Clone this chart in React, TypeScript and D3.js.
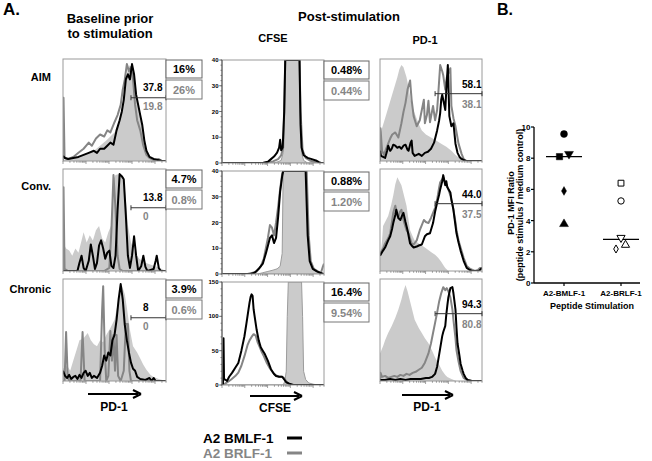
import React from 'react';
import * as d3 from 'd3';

type Pt = [number, number];

// ---------------- Panel A data ----------------
const rowLabels = ['AIM', 'Conv.', 'Chronic'];
const baselineBMLFPct = ['16%', '4.7%', '3.9%'];
const baselineBRLFPct = ['26%', '0.8%', '0.6%'];
const cfseBMLFPct = ['0.48%', '0.88%', '16.4%'];
const cfseBRLFPct = ['0.44%', '1.20%', '9.54%'];
const baselineGateBMLF = ['37.8', '13.8', '8'];
const baselineGateBRLF = ['19.8', '0', '0'];
const postGateBMLF = ['58.1', '44.0', '94.3'];
const postGateBRLF = ['38.1', '37.5', '80.8'];
const cfseMax = [40, 40, 150];
const cfseTicks = [[0, 10, 20, 30, 40], [0, 10, 20, 30, 40], [0, 50, 100, 150]];
const cfseMinorStep = [2, 2, 10];

// histograms: [percent along x-axis, height (% of mode or CFSE count)]
const baseAimFill: Pt[] = [[0,1],[10,3],[20,6],[30,10],[36,15],[42,20],[50,28],[55,40],[59,60],[62,85],[64,94],[67,90],[70,75],[74,50],[78,25],[81,8],[85,2],[92,0],[100,0]];
const baseAimBRLF: Pt[] = [[0,0],[0.5,62],[1.5,3],[5,2],[10,4],[15,8],[20,12],[25,18],[28,15],[32,22],[36,26],[40,24],[43,30],[46,28],[50,38],[53,45],[56,55],[58,70],[60,80],[62,95],[64,88],[66,92],[68,80],[70,55],[72,40],[75,30],[78,15],[81,6],[84,3],[88,1],[93,2],[96,0],[100,0]];
const baseAimBMLF: Pt[] = [[0,5],[2,3],[5,2],[10,3],[15,4],[20,6],[25,8],[30,10],[33,8],[36,12],[40,12],[43,15],[46,18],[49,16],[52,30],[55,40],[57,48],[59,60],[61,80],[63,85],[65,80],[67,95],[69,85],[71,65],[73,55],[75,45],[77,35],[79,20],[81,10],[84,4],[88,2],[92,1],[96,0],[100,0]];

const baseConvFill: Pt[] = [[0,28],[3,22],[6,20],[9,15],[12,22],[15,18],[18,30],[20,38],[23,28],[26,35],[29,30],[32,40],[35,44],[38,32],[41,28],[44,38],[47,45],[49,90],[51,94],[55,95],[59,92],[61,70],[63,45],[66,28],[70,18],[74,12],[80,8],[86,6],[92,4],[96,2],[100,0]];
const baseConvBRLF: Pt[] = [[0,0],[0.5,82],[1.5,2],[5,0],[40,0],[45,3],[47,40],[49,94],[51,60],[53,15],[55,2],[58,0],[100,0]];
const baseConvBMLF: Pt[] = [[0,0],[14,0],[16,8],[18,15],[20,3],[22,0],[25,10],[27,26],[29,15],[31,2],[33,8],[35,25],[37,30],[39,22],[41,12],[43,18],[45,20],[47,5],[49,3],[51,15],[53,60],[55,95],[57,93],[59,90],[61,55],[63,15],[65,3],[67,15],[69,34],[71,15],[73,0],[76,5],[78,15],[80,4],[82,0],[88,2],[90,10],[91,15],[93,3],[95,0],[100,0]];

const baseChronFill: Pt[] = [[0,12],[4,15],[7,10],[10,20],[13,30],[16,40],[20,42],[24,47],[27,40],[30,36],[33,34],[36,40],[39,38],[42,45],[46,52],[50,60],[53,75],[55,88],[57,94],[60,85],[62,72],[65,50],[68,34],[72,28],[75,22],[78,16],[81,11],[85,6],[88,4],[93,2],[100,0]];
const baseChronBRLF: Pt[] = [[0,0],[1.5,0],[3,48],[4.5,5],[6,0],[17,0],[19,48],[21,0],[36,0],[38,70],[39,93],[40.5,30],[42,0],[44,5],[46,49],[47.5,20],[49,45],[50.5,10],[52,45],[53.5,5],[56,0],[59,10],[61,56],[63,56],[64.5,10],[66,0],[100,0]];
const baseChronBMLF: Pt[] = [[0,10],[2,5],[4,3],[6,6],[8,2],[10,4],[12,5],[14,2],[16,6],[18,3],[20,8],[22,10],[24,5],[26,8],[28,3],[30,5],[33,3],[36,8],[38,15],[40,25],[42,20],[44,28],[46,25],[48,40],[50,45],[52,60],[54,80],[56,95],[58,80],[60,55],[62,40],[64,28],[66,18],[68,12],[70,10],[72,4],[75,2],[80,1],[84,3],[86,0],[88,3],[90,0],[100,0]];

const cfseAimFill: Pt[] = [[0,0],[50,0],[55,0.5],[58,1],[60,4],[61,20],[62,40],[76,40],[77,20],[78,4],[80,1],[84,0],[100,0]];
const cfseAimBRLF: Pt[] = [[0,0],[40,0],[45,0.3],[50,0.6],[55,1.5],[58,3],[60,6],[61,20],[62,40],[76,40],[77,20],[79,5],[82,2],[86,1],[90,0.5],[95,0],[100,0]];
const cfseAimBMLF: Pt[] = [[0,0],[40,0],[45,0.5],[48,1.5],[51,2.5],[54,4],[56,6],[57,9],[58,5],[59.5,6],[61,20],[62,40],[76,40],[77,15],[78,6],[80,3],[84,2],[88,1.5],[92,1],[95,0.3],[97,0],[100,0]];

const cfseConvFill: Pt[] = [[0,0],[35,0],[40,0.5],[45,1],[50,1.5],[54,2],[57,3],[59,8],[60,40],[83,40],[84,20],[86,6],[88,3],[92,1.5],[96,0.5],[100,0]];
const cfseConvBRLF: Pt[] = [[0,0],[25,0],[30,0.5],[34,1],[38,3],[41,6],[43,10],[45,14],[47,19],[49,18],[51,15],[53,20],[55,26],[57,33],[59,39],[60,40],[83,40],[85,15],[87,5],[90,2],[94,1],[97,0.5],[99,3],[100,4]];
const cfseConvBMLF: Pt[] = [[0,0],[28,0],[32,0.5],[36,2],[40,4],[43,8],[45,11],[47,14],[49,15],[51,12],[53,14],[55,22],[57,32],[59,38],[60,40],[82,40],[84,15],[86,5],[89,2],[93,1],[96,0.5],[100,0]];

const cfseChronFill: Pt[] = [[0,0],[60,0],[61.5,5],[63,20],[64,100],[65,150],[78,150],[79,100],[80,20],[82,8],[85,3],[90,1],[95,0],[100,0]];
const cfseChronBRLF: Pt[] = [[0,0],[3,2],[6,5],[9,8],[13,13],[16,18],[19,28],[22,42],[25,58],[27,65],[29,70],[31,74],[33,72],[35,62],[37,55],[39,48],[41,42],[44,32],[47,24],[50,18],[53,14],[56,12],[59,12],[61,10],[63,5],[65,2],[68,0],[100,0]];
const cfseChronBMLF: Pt[] = [[0,0],[1,2],[1.5,68],[2,8],[3,8],[5,6],[7,12],[10,18],[13,25],[16,32],[19,50],[22,71],[24,90],[26,110],[27,120],[28,128],[29,132],[30,130],[31,110],[32,100],[34,80],[36,65],[38,55],[40,50],[42,45],[45,35],[48,23],[51,16],[53,13],[56,12],[59,12],[61,8],[63,4],[66,2],[70,0],[100,0]];

const postAimFill: Pt[] = [[0,25],[2,32],[5,42],[8,52],[11,62],[14,72],[17,82],[19,90],[21,94],[23,92],[26,82],[28,72],[30,60],[32,52],[35,44],[38,36],[41,30],[45,26],[50,23],[55,20],[60,17],[65,14],[70,10],[74,6],[78,3],[83,1],[88,0],[100,0]];
const postAimBRLF: Pt[] = [[0,0],[0.5,32],[2,10],[4,6],[6,12],[8,17],[10,22],[12,26],[15,28],[18,23],[21,37],[23,48],[25,57],[27,70],[29.5,79],[31,60],[33,44],[36,34],[39,40],[41,50],[43,60],[44,37],[46,45],[47.5,59],[49,38],[52,54],[54,40],[56,50],[57,64],[59,94],[61,88],[62,84],[64,70],[65.5,82],[67,86],[69,91],[70,54],[72,42],[74,34],[77,17],[80,7],[82,2],[85,0],[100,0]];
const postAimBMLF: Pt[] = [[0,10],[1,5],[3,4],[5,3],[7,10],[8,15],[10,10],[11.5,12],[13,16],[15,15],[17,13],[19,14],[21,12],[23,15],[25,16],[27,11],[28,10],[30,18],[31,20],[32,8],[34,5],[36,6],[38,7],[41,5],[44,8],[47,9],[50,12],[53,18],[56,30],[58,40],[59,47],[60,60],[61,65],[62,60],[63,55],[64,50],[65,70],[66.5,94],[67.5,60],[68,44],[70,34],[72,37],[74,17],[76,8],[78,4],[80,2],[84,0],[100,0]];

const postConvFill: Pt[] = [[0,12],[2,30],[3,44],[6,50],[8,54],[11,65],[13,74],[15,85],[17,92],[19,88],[21,84],[24,72],[26,64],[28,50],[29.5,40],[32,34],[34,30],[38,27],[44,23],[48,20],[51,18],[54,16],[57,13],[60,9],[62,6],[64,3],[67,0],[100,0]];
const postConvBRLF: Pt[] = [[0,17],[3,22],[5,27],[8,32],[10,37],[12,50],[13,57],[15,64],[16.5,55],[18,52],[19.5,58],[21,60],[23,50],[24.5,45],[26,40],[28,37],[31,27],[33,26],[36,30],[39,40],[41,45],[43,50],[45,48],[47.5,47],[50,52],[52,57],[54,62],[56,70],[58,82],[59,87],[61,90],[62,92],[64,86],[65.5,84],[67,80],[69,74],[71,66],[72,60],[74,48],[75,40],[77,30],[79,23],[82,13],[85,5],[88.5,2],[93,0],[96,1],[98,3],[100,3]];
const postConvBMLF: Pt[] = [[0,15],[3,20],[5,23],[8,30],[10,34],[12,42],[13,47],[15,55],[16,60],[18,52],[20,50],[21.5,54],[23,57],[25,48],[27,40],[29.5,27],[31,25],[33,23],[36,24],[38,25],[41,26],[44,34],[46,36],[49,37],[52,47],[54,58],[56,67],[58,75],[59,80],[61,88],[62,94],[64,84],[65,88],[66,82],[69,77],[70,70],[72,60],[73,52],[75,37],[77,28],[79,20],[82,10],[85,3],[88,1],[90,0],[97,0],[100,3]];

const postChronFill: Pt[] = [[0,27],[3,34],[5,40],[8,47],[11.5,54],[15,62],[18,70],[21,80],[23,88],[25,94],[27,88],[28,84],[31,72],[34,60],[38,52],[41,47],[44,42],[47.5,37],[51,30],[54,23],[58,16],[61,10],[64,6],[66,4],[70,2],[75,0],[100,0]];
const postChronBRLF: Pt[] = [[0,0],[0.5,8],[2,4],[5,5],[8,3],[11,4],[14,5],[17,4],[20,6],[23,5],[26,7],[29,6],[32,8],[35,9],[38,11],[41,13],[44,18],[47.5,27],[50,37],[52,47],[54,57],[56,67],[58,78],[60,86],[62,92],[64,89],[65.5,91],[67,88],[69,82],[71,70],[72,60],[74,42],[75,30],[77,19],[79,10],[82,3],[85,1],[90,0],[100,0]];
const postChronBMLF: Pt[] = [[0,1],[5,1],[10,2],[15,1],[20,2],[25,1],[30,2],[35,2],[40,2],[45,3],[48,3],[51,4],[54,7],[56,14],[57,20],[59,32],[61,44],[62,48],[64,54],[65,65],[66,74],[67,82],[69,91],[71,92],[72,86],[73,78],[74,70],[75,52],[76,37],[78,24],[79,17],[81,10],[82,7],[84,3],[86,1],[90,0],[100,0]];

const baselineFill = [baseAimFill, baseConvFill, baseChronFill];
const baselineBRLF = [baseAimBRLF, baseConvBRLF, baseChronBRLF];
const baselineBMLF = [baseAimBMLF, baseConvBMLF, baseChronBMLF];
const cfseFill = [cfseAimFill, cfseConvFill, cfseChronFill];
const cfseBRLF = [cfseAimBRLF, cfseConvBRLF, cfseChronBRLF];
const cfseBMLF = [cfseAimBMLF, cfseConvBMLF, cfseChronBMLF];
const postFill = [postAimFill, postConvFill, postChronFill];
const postBRLF = [postAimBRLF, postConvBRLF, postChronBRLF];
const postBMLF = [postAimBMLF, postConvBMLF, postChronBMLF];

// ---------------- Panel B data ----------------
const peptideCategories = ['A2-BMLF-1', 'A2-BRLF-1'];
const bmlfRatios = [9.55, 8.1, 8.27, 5.9, 3.78];
const brlfRatios = [6.4, 5.26, 2.9, 2.18, 2.44];
const bmlfSymbols = ['circle', 'square', 'triangleDown', 'diamond', 'triangle'];
const brlfSymbols = ['square', 'circle', 'triangleDown', 'diamond', 'triangle'];
const medianRatios = [8.1, 2.8];
const ratioTicks = [0, 2, 4, 6, 8, 10];

// ---------------- styling ----------------
const FONT = "'Liberation Sans', Arial, Helvetica, sans-serif";
const BLACK = '#000';
const GRAY = '#858585';
const FILLC = '#cbcbcb';
const BORDER = '#9a9a9a';

const colX = [63, 222, 380];
const colW = [103, 102, 102];
const colTops = [[59, 169, 279], [60, 171, 282], [59, 169, 279]];
const panelH = 102;

function LogTicks({ x0, w, y }: { x0: number; w: number; y: number }) {
  const s = d3.scaleLog().domain([1, 30000]).range([x0, x0 + w]);
  const t = s.ticks();
  return (
    <g stroke="#777" strokeWidth={0.7}>
      {t.map((v, i) => {
        const major = Math.abs(Math.log10(v) - Math.round(Math.log10(v))) < 1e-9;
        return <line key={i} x1={s(v)} x2={s(v)} y1={y} y2={y + (major ? 3 : 1.8)} />;
      })}
    </g>
  );
}

function Histo({ id, x0, top, w, h, yMax, fill, gray, black, fillStroke }:
  { id: string; x0: number; top: number; w: number; h: number; yMax: number; fill: Pt[]; gray: Pt[]; black: Pt[]; fillStroke?: boolean }) {
  const xs = d3.scaleLinear().domain([0, 100]).range([x0, x0 + w]);
  const ys = d3.scaleLinear().domain([0, yMax]).range([top + h, top]);
  const line = d3.line<Pt>().x(d => xs(d[0])).y(d => ys(d[1]));
  const area = d3.area<Pt>().x(d => xs(d[0])).y0(ys(0)).y1(d => ys(d[1]));
  return (
    <g>
      <clipPath id={id}><rect x={x0} y={top} width={w} height={h} /></clipPath>
      <rect x={x0} y={top} width={w} height={h} fill="#fff" />
      <g clipPath={`url(#${id})`}>
        <path d={area(fill) || ''} fill={FILLC} stroke={fillStroke ? '#9c9c9c' : 'none'} strokeWidth={1} />
        <path d={line(gray) || ''} fill="none" stroke={GRAY} strokeWidth={2} strokeLinejoin="round" />
        <path d={line(black) || ''} fill="none" stroke={BLACK} strokeWidth={2} strokeLinejoin="round" />
      </g>
      <rect x={x0} y={top} width={w} height={h} fill="none" stroke={BORDER} strokeWidth={1} />
      <LogTicks x0={x0} w={w} y={top + h} />
    </g>
  );
}

function PctBoxes({ x, top, w, a, b }: { x: number; top: number; w: number; a: string; b: string }) {
  return (
    <g fontFamily={FONT} fontWeight="bold" fontSize={11} textAnchor="middle">
      <rect x={x} y={top + 1} width={w} height={18} fill="#fff" stroke="#666" strokeWidth={1} />
      <text x={x + w / 2} y={top + 14} fill={BLACK}>{a}</text>
      <rect x={x} y={top + 21} width={w} height={19} fill="#fff" stroke="#777" strokeWidth={1} />
      <text x={x + w / 2} y={top + 34.5} fill={GRAY}>{b}</text>
    </g>
  );
}

function Gate({ x1, x2, y }: { x1: number; x2: number; y: number }) {
  return (
    <g stroke="#333" strokeWidth={1}>
      <line x1={x1} x2={x2} y1={y} y2={y} />
      <line x1={x1} x2={x1} y1={y - 2.5} y2={y + 2.5} />
      <line x1={x2} x2={x2} y1={y - 2.5} y2={y + 2.5} />
    </g>
  );
}

function Arrow({ x1, x2, y }: { x1: number; x2: number; y: number }) {
  return (
    <g>
      <line x1={x1} x2={x2 - 3} y1={y} y2={y} stroke={BLACK} strokeWidth={2} />
      <path d={`M${x2},${y} L${x2 - 8},${y - 4} M${x2},${y} L${x2 - 8},${y + 4}`} stroke={BLACK} strokeWidth={2} fill="none" />
    </g>
  );
}

function Marker({ type, x, y, filled }: { type: string; x: number; y: number; filled: boolean }) {
  let sym: d3.SymbolType = d3.symbolCircle;
  let size = 38;
  let rot = 0;
  if (type === 'square') { sym = d3.symbolSquare; size = 40; }
  if (type === 'triangle') { sym = d3.symbolTriangle; size = 34; }
  if (type === 'triangleDown') { sym = d3.symbolTriangle; size = 34; rot = 180; }
  if (type === 'diamond') { sym = d3.symbolDiamond; size = 22; }
  if (!filled) size *= 0.85;
  const d = d3.symbol().type(sym).size(size)() || '';
  return (
    <path d={d} transform={`translate(${x},${y}) rotate(${rot})`}
      fill={filled ? BLACK : '#fff'} stroke={BLACK} strokeWidth={filled ? 0.5 : 1} />
  );
}

function PanelB() {
  const yS = d3.scaleLinear().domain([0, 10]).range([283, 127]);
  const xS = d3.scalePoint<string>().domain(peptideCategories).range([564, 621]);
  const axX0 = 534, axX1 = 640;
  const jitterB = [0, -4.5, 5, 0, 0];
  const jitterR = [0, 0, 0, -5, 4.5];
  const groups = [
    { cat: peptideCategories[0], vals: bmlfRatios, syms: bmlfSymbols, filled: true, jit: jitterB },
    { cat: peptideCategories[1], vals: brlfRatios, syms: brlfSymbols, filled: false, jit: jitterR },
  ];
  return (
    <g fontFamily={FONT} fontWeight="bold">
      <line x1={axX0} x2={axX0} y1={yS(10)} y2={yS(0)} stroke={BLACK} strokeWidth={1.3} />
      <line x1={axX0} x2={axX1} y1={yS(0)} y2={yS(0)} stroke={BLACK} strokeWidth={1.3} />
      {ratioTicks.map(t => (
        <g key={t}>
          <line x1={axX0 - 3} x2={axX0} y1={yS(t)} y2={yS(t)} stroke={BLACK} strokeWidth={1.2} />
          <text x={axX0 - 3.5} y={yS(t) + 3} fontSize={8} textAnchor="end">{t}</text>
        </g>
      ))}
      {peptideCategories.map(c => (
        <g key={c}>
          <line x1={xS(c)!} x2={xS(c)!} y1={yS(0)} y2={yS(0) + 3} stroke={BLACK} strokeWidth={1.2} />
          <text x={xS(c)!} y={yS(0) + 13} fontSize={8} textAnchor="middle">{c}</text>
        </g>
      ))}
      <text x={592} y={309} fontSize={9} textAnchor="middle">Peptide Stimulation</text>
      <text transform="translate(514,203) rotate(-90)" fontSize={9} textAnchor="middle">PD-1 MFI Ratio</text>
      <text transform="translate(523,205) rotate(-90)" fontSize={9} textAnchor="middle">(peptide stimulus / medium control)</text>
      {groups.map((g, gi) => (
        <g key={gi}>
          <line x1={xS(g.cat)! - 18} x2={xS(g.cat)! + 18} y1={yS(medianRatios[gi])} y2={yS(medianRatios[gi])} stroke={BLACK} strokeWidth={1.3} />
          {g.vals.map((v, i) => (
            <Marker key={i} type={g.syms[i]} x={xS(g.cat)! + g.jit[i]} y={yS(v)} filled={g.filled} />
          ))}
        </g>
      ))}
    </g>
  );
}

export default function App() {
  const rows = [0, 1, 2];
  const rowLabelBase = [81, 190, 293];
  return (
    <svg width={652} height={461} viewBox="0 0 652 461" style={{ position: 'absolute', left: 0, top: 0, background: '#fff' }}>
      <rect x={0} y={0} width={652} height={461} fill="#fff" />
      <g fontFamily={FONT} fontWeight="bold" fill={BLACK}>
        <text x={3} y={15} fontSize={17}>A.</text>
        <text x={110} y={23} fontSize={13} textAnchor="middle">Baseline prior</text>
        <text x={110} y={38} fontSize={13} textAnchor="middle">to stimulation</text>
        <text x={349} y={20.5} fontSize={13} textAnchor="middle">Post-stimulation</text>
        <text x={273} y={42} fontSize={11} textAnchor="middle">CFSE</text>
        <text x={425} y={44} fontSize={11} textAnchor="middle">PD-1</text>
        <text x={497} y={15} fontSize={16}>B.</text>
        {rows.map(r => (
          <text key={r} x={51} y={rowLabelBase[r]} fontSize={11} textAnchor="end">{rowLabels[r]}</text>
        ))}
      </g>

      {rows.map(r => {
        const t1 = colTops[0][r], t2 = colTops[1][r], t3 = colTops[2][r];
        const ys2 = d3.scaleLinear().domain([0, cfseMax[r]]).range([t2 + panelH + 1, t2]);
        const minor = d3.range(0, cfseMax[r] + 0.001, cfseMinorStep[r]);
        const g1 = t1 + panelH * 0.38;
        const g3 = t3 + panelH * 0.34;
        return (
          <g key={r}>
            <Histo id={`b${r}`} x0={colX[0]} top={t1} w={colW[0]} h={panelH} yMax={100}
              fill={baselineFill[r]} gray={baselineBRLF[r]} black={baselineBMLF[r]} />
            <Gate x1={colX[0] + colW[0] * 0.66} x2={colX[0] + colW[0]} y={g1} />
            <g fontFamily={FONT} fontWeight="bold" fontSize={10}>
              <text x={143} y={g1 - 7} fill={BLACK}>{baselineGateBMLF[r]}</text>
              <text x={143} y={g1 + 12} fill={GRAY}>{baselineGateBRLF[r]}</text>
            </g>
            <PctBoxes x={colX[0] + colW[0]} top={t1} w={36} a={baselineBMLFPct[r]} b={baselineBRLFPct[r]} />

            <Histo id={`c${r}`} x0={colX[1]} top={t2} w={colW[1]} h={panelH + 1} yMax={cfseMax[r]}
              fill={cfseFill[r]} gray={cfseBRLF[r]} black={cfseBMLF[r]} fillStroke />
            <line x1={colX[1]} x2={colX[1]} y1={t2} y2={t2 + panelH + 1} stroke="#555" strokeWidth={1} />
            <g stroke="#555" strokeWidth={0.7}>
              {minor.map((v, i) => (
                <line key={i} x1={colX[1] - 1.5} x2={colX[1]} y1={ys2(v)} y2={ys2(v)} />
              ))}
              {cfseTicks[r].map((v, i) => (
                <line key={'M' + i} x1={colX[1] - 3} x2={colX[1]} y1={ys2(v)} y2={ys2(v)} />
              ))}
            </g>
            <g fontFamily={FONT} fontWeight="bold" fontSize={6} textAnchor="end">
              {cfseTicks[r].map((v, i) => (
                <text key={i} x={colX[1] - 3.5} y={ys2(v) + 2}>{v}</text>
              ))}
            </g>
            <PctBoxes x={colX[1] + colW[1]} top={t2} w={45} a={cfseBMLFPct[r]} b={cfseBRLFPct[r]} />

            <Histo id={`p${r}`} x0={colX[2]} top={t3} w={colW[2]} h={panelH} yMax={100}
              fill={postFill[r]} gray={postBRLF[r]} black={postBMLF[r]} />
            <Gate x1={colX[2] + colW[2] * 0.54} x2={colX[2] + colW[2]} y={g3} />
            <g fontFamily={FONT} fontWeight="bold" fontSize={10} textAnchor="end">
              <text x={colX[2] + colW[2] - 0.5} y={g3 - 6} fill={BLACK}>{postGateBMLF[r]}</text>
              <text x={colX[2] + colW[2] - 0.5} y={g3 + 14} fill={GRAY}>{postGateBRLF[r]}</text>
            </g>
          </g>
        );
      })}

      <Arrow x1={88} x2={141} y={394} />
      <Arrow x1={250} x2={302} y={396} />
      <Arrow x1={402} x2={453} y={395} />
      <g fontFamily={FONT} fontWeight="bold" fontSize={12} textAnchor="middle">
        <text x={114} y={411}>PD-1</text>
        <text x={275} y={412}>CFSE</text>
        <text x={427} y={411}>PD-1</text>
      </g>

      <g fontFamily={FONT} fontWeight="bold" fontSize={13.5}>
        <text x={203} y={443} fill={BLACK}>A2 BMLF-1</text>
        <line x1={287} x2={302} y1={438} y2={438} stroke={BLACK} strokeWidth={3} />
        <text x={203} y={458} fill={GRAY}>A2 BRLF-1</text>
        <line x1={287} x2={302} y1={453} y2={453} stroke={GRAY} strokeWidth={3} />
      </g>

      <PanelB />
    </svg>
  );
}
